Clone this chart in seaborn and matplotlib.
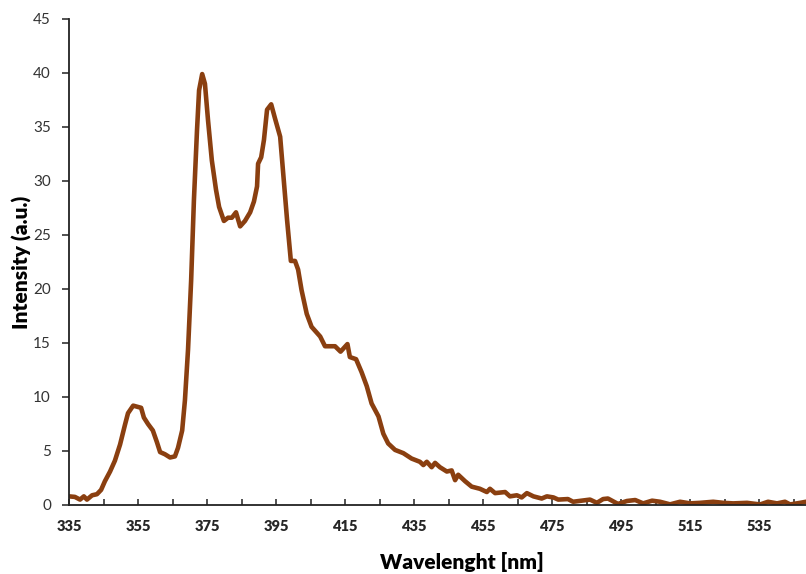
import matplotlib
matplotlib.use("Agg")
import matplotlib.pyplot as plt
import seaborn as sns
import pandas as pd

wavelength = [335.0, 336.7, 338.2, 339.3, 340.2, 341.7, 343.1, 344.3, 345.4, 346.9,
              348.3, 349.8, 351.2, 352.1, 353.6, 354.7, 355.9, 356.7, 357.9, 359.3,
              360.5, 361.4, 362.8, 364.3, 365.7, 366.6, 367.8, 368.6, 369.5, 370.4,
              371.2, 372.1, 372.7, 373.6, 374.4, 375.3, 376.4, 377.6, 378.5, 379.9,
              381.1, 382.2, 383.4, 384.6, 386.0, 387.5, 388.6, 389.5, 389.8, 390.7,
              391.5, 392.4, 393.6, 394.7, 396.2, 397.0, 398.2, 399.3, 400.5, 401.4,
              402.4, 403.9, 405.3, 407.8, 409.2, 410.7, 412.1, 413.7, 415.7, 416.4,
              418.2, 419.8, 421.3, 422.7, 424.7, 426.1, 427.5, 429.5, 431.9, 434.3,
              436.7, 437.7, 438.7, 440.1, 441.1, 442.5, 444.5, 445.9, 446.9, 447.8,
              449.8, 451.7, 454.1, 456.1, 457.0, 458.5, 461.4, 462.8, 464.8, 466.2,
              467.7, 469.6, 472.0, 473.5, 475.4, 476.8, 479.6, 481.1, 486.0, 488.0,
              489.8, 491.2, 494.1, 496.7, 499.1, 501.4, 504.0, 506.3, 509.2, 512.1,
              515.0, 517.9, 521.7, 524.6, 527.5, 531.5, 535.3, 537.6, 540.2, 542.5,
              544.0, 546.9, 548.6]
intensity = [0.8, 0.75, 0.5, 0.8, 0.5, 0.9, 1.0, 1.4, 2.2, 3.1,
             4.1, 5.6, 7.4, 8.5, 9.2, 9.1, 9.0, 8.1, 7.5, 6.9,
             5.8, 4.9, 4.7, 4.4, 4.5, 5.3, 6.9, 9.7, 14.4, 20.8,
             28.2, 34.7, 38.4, 39.9, 39.0, 35.6, 31.9, 29.2, 27.6, 26.3,
             26.6, 26.6, 27.1, 25.8, 26.3, 27.1, 28.1, 29.5, 31.6, 32.2,
             33.8, 36.6, 37.1, 35.8, 34.1, 31.0, 26.4, 22.6, 22.6, 21.8,
             19.9, 17.7, 16.5, 15.6, 14.7, 14.7, 14.7, 14.2, 14.9, 13.7,
             13.5, 12.3, 11.0, 9.4, 8.2, 6.6, 5.7, 5.1, 4.8, 4.3,
             4.0, 3.7, 4.0, 3.5, 3.9, 3.5, 3.1, 3.2, 2.3, 2.8,
             2.2, 1.7, 1.5, 1.2, 1.5, 1.1, 1.2, 0.8, 0.9, 0.7,
             1.1, 0.8, 0.6, 0.8, 0.7, 0.5, 0.55, 0.3, 0.5, 0.2,
             0.55, 0.6, 0.1, 0.37, 0.46, 0.15, 0.4, 0.3, 0.06, 0.3,
             0.15, 0.2, 0.3, 0.2, 0.15, 0.2, 0.05, 0.3, 0.15, 0.3,
             0.05, 0.2, 0.3]

x_ticks = [335, 355, 375, 395, 415, 435, 455, 475, 495, 515, 535]
y_ticks = [0, 5, 10, 15, 20, 25, 30, 35, 40, 45]

df = pd.DataFrame({"wl": wavelength, "I": intensity})

sns.set_theme(style="white")
plt.rcParams['font.family'] = ['Lato', 'DejaVu Sans']

fig = plt.figure(figsize=(8.06, 5.74), dpi=100)
ax = fig.add_axes([69/806, 69/574, 737/806, 486/574])

sns.lineplot(data=df, x="wl", y="I", ax=ax, color="#8a3f10", linewidth=3.3,
             estimator=None, sort=False)

ax.set_xlim(335, 548.6)
ax.set_ylim(0, 45)
ax.set_xticks(x_ticks)
ax.set_xticks(list(range(345, 549, 20)), minor=True)
ax.set_yticks(y_ticks)

for s in ["top", "right"]:
    ax.spines[s].set_visible(False)
for s in ["left", "bottom"]:
    ax.spines[s].set_visible(True)
    ax.spines[s].set_color("#222222")
    ax.spines[s].set_linewidth(1.3)

ax.tick_params(axis="x", which="both", direction="in", length=4, width=1.1,
               color="#222222", pad=11, labelsize=10.5, bottom=True)
ax.tick_params(axis="y", direction="out", length=5, width=1.1, color="#222222",
               pad=8, labelsize=11, left=True, labelcolor="#333333")
for lab in ax.get_xticklabels():
    lab.set_fontweight("heavy")

ax.set_xlabel("Wavelenght [nm]", fontsize=15, fontweight="heavy", color="black")
ax.set_ylabel("Intensity (a.u.)", fontsize=15, fontweight="heavy", color="black")
ax.xaxis.set_label_coords((462 - 69) / 737, -47 / 486)
ax.yaxis.set_label_coords((32 - 69) / 737, 0.5)

fig.savefig("out.png", dpi=100)
